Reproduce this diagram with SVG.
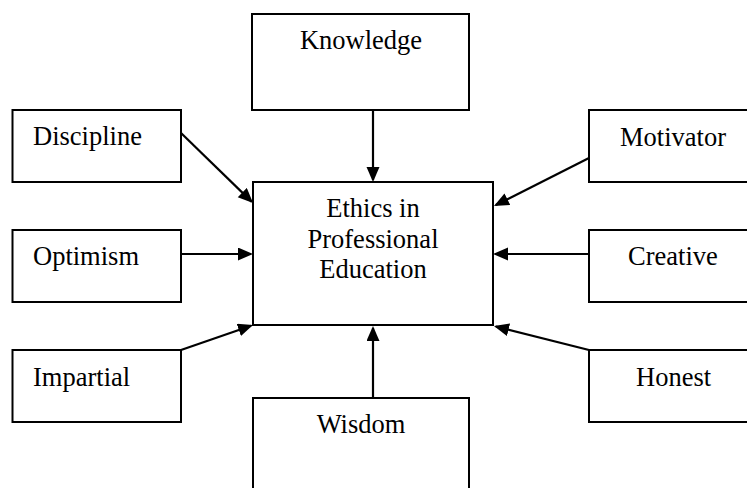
<svg xmlns="http://www.w3.org/2000/svg" width="747" height="488" viewBox="0 0 747 488">
<style>
rect{fill:#fff;stroke:#000;stroke-width:2}
text{font-family:"Liberation Serif","Times New Roman",serif;font-size:26.5px;fill:#000}
.c{text-anchor:middle}
#connectors path{stroke:#000;stroke-width:2.2;fill:none;marker-end:url(#ah)}
</style>
<defs>
<marker id="ah" markerUnits="userSpaceOnUse" markerWidth="16" markerHeight="14" refX="13" refY="6.5" orient="auto">
<path d="M0,0 L15,6.5 L0,13 z" fill="#000"/>
</marker>
</defs>
<g id="center"><rect x="253" y="182" width="240" height="143"/>
<text class="c" x="373" y="217">Ethics in</text>
<text class="c" x="373" y="248">Professional</text>
<text class="c" x="373" y="278">Education</text></g>
<g id="knowledge"><rect x="252" y="14" width="217" height="96"/><text class="c" x="361" y="49">Knowledge</text></g>
<g id="wisdom"><rect x="253" y="398" width="216" height="110"/><text class="c" x="361" y="433">Wisdom</text></g>
<g id="discipline"><rect x="12.5" y="110" width="168.5" height="72"/><text x="33" y="145">Discipline</text></g>
<g id="optimism"><rect x="12.5" y="230" width="168.5" height="72"/><text x="33" y="265">Optimism</text></g>
<g id="impartial"><rect x="12.5" y="350" width="168.5" height="72"/><text x="33" y="386">Impartial</text></g>
<g id="motivator"><rect x="589" y="110" width="170" height="72"/><text x="620" y="146">Motivator</text></g>
<g id="creative"><rect x="589" y="230" width="170" height="72"/><text x="628" y="265">Creative</text></g>
<g id="honest"><rect x="589" y="350" width="170" height="72"/><text x="636" y="386">Honest</text></g>
<g id="connectors">
<path d="M373,110 L373,180"/>
<path d="M181,133 L251.6,201.6"/>
<path d="M181,254 L251,254"/>
<path d="M181,350 L251.1,325.7"/>
<path d="M373,398 L373,328"/>
<path d="M589,158 L495.8,205.1"/>
<path d="M589,254 L495,254"/>
<path d="M589,350 L495.9,326.5"/>
</g>
</svg>
